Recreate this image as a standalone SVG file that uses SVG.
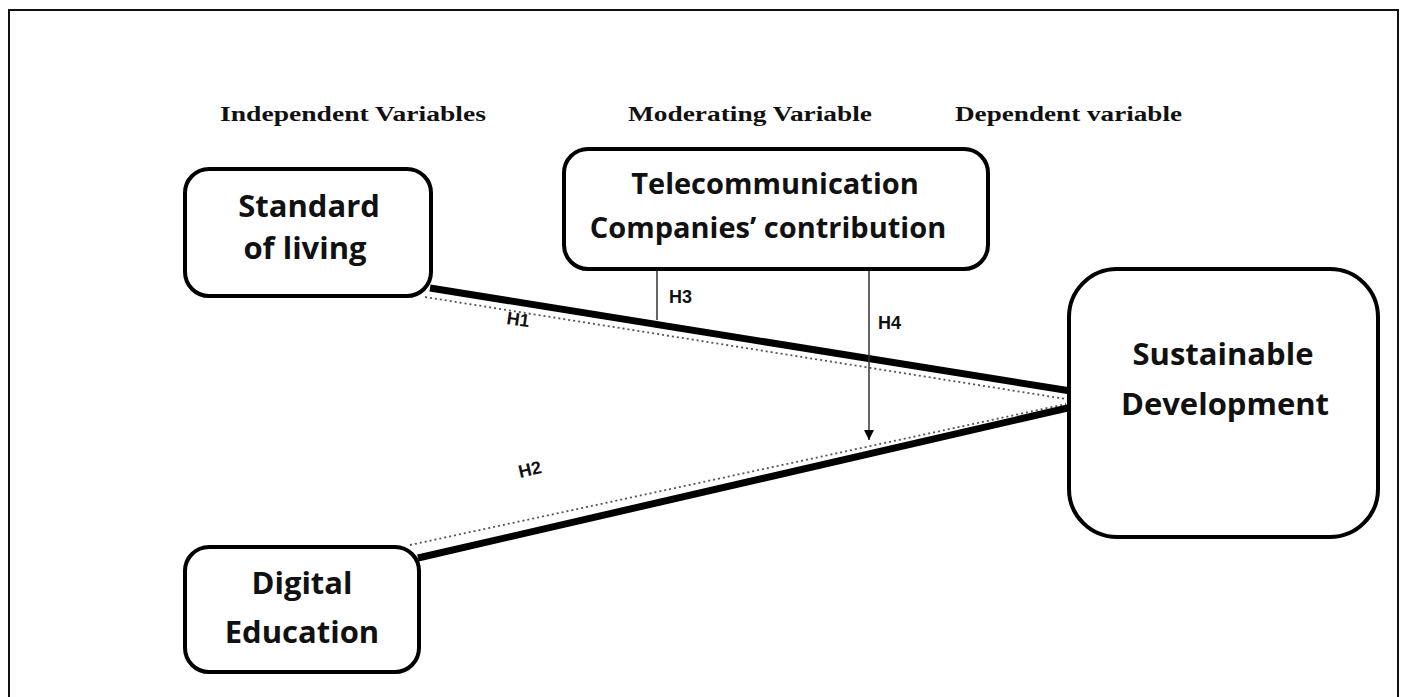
<svg xmlns="http://www.w3.org/2000/svg" width="1404" height="697" viewBox="0 0 1404 697">
<style>
.box{fill:#fff;stroke:#000;stroke-width:4}
.hdr{font-family:"Liberation Serif",serif;font-weight:bold;font-size:20px;fill:#111}
.lbl{font-family:"Open Sans","DejaVu Sans",sans-serif;font-weight:bold;font-size:31px;fill:#111;text-anchor:middle}
.h{font-family:"Liberation Sans",sans-serif;font-weight:bold;font-size:18px;fill:#111}
.thick{stroke:#000;stroke-width:7;fill:none}
.dot{stroke:#555;stroke-width:1.8;stroke-dasharray:2 3;fill:none}
.thin{stroke:#333;stroke-width:1.5;fill:none}
</style>
<defs>
<marker id="tri" viewBox="0 0 10 10" refX="10" refY="5" markerWidth="12" markerHeight="10" orient="auto" markerUnits="userSpaceOnUse"><path d="M0,0 L10,5 L0,10 Z" fill="#000"/></marker>
</defs>
<rect width="1404" height="697" fill="#fff"/>
<path d="M9,697 V10 H1398 V697" fill="none" stroke="#111" stroke-width="2"/>
<text class="hdr" x="220" y="121" textLength="266" lengthAdjust="spacingAndGlyphs">Independent Variables</text>
<text class="hdr" x="628" y="121" textLength="244" lengthAdjust="spacingAndGlyphs">Moderating Variable</text>
<text class="hdr" x="955" y="121" textLength="227" lengthAdjust="spacingAndGlyphs">Dependent variable</text>
<g id="connectors">
<line class="dot" x1="425" y1="297" x2="1066" y2="399"/>
<line class="thick" x1="430" y1="288" x2="1077" y2="392"/>
<line class="dot" x1="410" y1="545" x2="1066" y2="404"/>
<line class="thick" x1="418" y1="558" x2="1072" y2="407"/>
<line class="thin" x1="657" y1="270" x2="657" y2="320"/>
<line class="thin" x1="869" y1="270" x2="869" y2="440" marker-end="url(#tri)"/>
<text class="h" transform="translate(506,324) rotate(8)">H1</text>
<text class="h" transform="translate(520,478) rotate(-13)">H2</text>
<text class="h" x="669" y="303">H3</text>
<text class="h" x="878" y="329">H4</text>
</g>
<g id="standard">
<rect class="box" x="185" y="169" width="246" height="127" rx="24"/>
<text class="lbl" x="309" y="217">Standard</text>
<text class="lbl" x="305" y="259">of living</text>
</g>
<g id="telecom">
<rect class="box" x="564" y="149" width="424" height="120" rx="24"/>
<text class="lbl" x="775" y="194" style="font-size:29px">Telecommunication</text>
<text class="lbl" x="768" y="238" style="font-size:29px">Companies’ contribution</text>
</g>
<g id="sustainable">
<rect class="box" x="1069" y="269" width="309" height="268" rx="48"/>
<text class="lbl" x="1223" y="365">Sustainable</text>
<text class="lbl" x="1225" y="415">Development</text>
</g>
<g id="digital">
<rect class="box" x="185" y="547" width="234" height="125" rx="24"/>
<text class="lbl" x="302" y="594">Digital</text>
<text class="lbl" x="302" y="643">Education</text>
</g>
</svg>
